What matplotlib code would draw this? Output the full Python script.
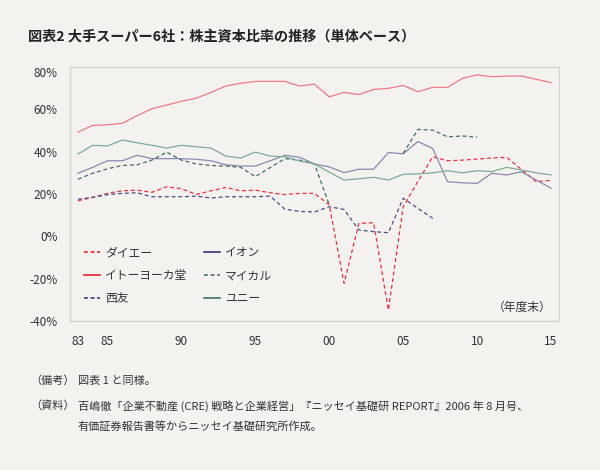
import numpy as np
import matplotlib
matplotlib.use("Agg")
import matplotlib.pyplot as plt
import matplotlib.transforms as mtrans
from matplotlib.lines import Line2D

plt.rcParams['font.family'] = ['Noto Sans CJK JP', 'DejaVu Sans']

nan = np.nan
years = list(range(1983, 2016))
xtick_years = [1983, 1985, 1990, 1995, 2000, 2005, 2010, 2015]
xtick_labels = ["83", "85", "90", "95", "00", "05", "10", "15"]
yticks = [-40, -20, 0, 20, 40, 60, 80]

daiei = [16.8, 18.4, 20.3, 21.5, 21.8, 20.8, 23.4, 22.5, 19.8, 21.5, 23.1, 21.5, 21.8,
         20.6, 19.7, 20.3, 20.3, 14.8, -22.2, 6.1, 6.4, -34.8, 14.0, 26.0, 37.6,
         35.7, 36.0, 36.5, 37.0, 37.3, 31.6, 25.8, 26.5]
ito = [49.3, 52.4, 52.7, 53.4, 57.0, 60.3, 62.0, 63.8, 65.3, 68.0, 71.0, 72.3, 73.2,
       73.2, 73.2, 71.0, 71.9, 65.9, 68.0, 67.0, 69.4, 69.9, 71.3, 68.3, 70.4,
       70.4, 74.6, 76.3, 75.4, 75.7, 75.7, 74.2, 72.6]
seiyu = [17.5, 18.4, 19.7, 20.3, 20.6, 18.7, 18.7, 18.7, 19.0, 18.1, 18.7, 18.7, 18.7,
         19.0, 12.8, 11.8, 11.5, 14.0, 12.7, 3.0, 2.2, 1.7, 18.0, 13.2, 8.5,
         nan, nan, nan, nan, nan, nan, nan, nan]
aeon = [29.8, 32.6, 35.7, 35.7, 38.3, 36.7, 36.7, 36.7, 36.4, 35.7, 33.8, 33.2, 33.2,
        35.7, 38.3, 37.3, 34.2, 32.8, 30.1, 31.7, 31.7, 39.6, 39.0, 44.8, 41.5,
        25.8, 25.3, 25.0, 29.8, 29.0, 30.5, 26.6, 22.7]
mycal = [27.0, 29.8, 31.9, 33.5, 33.8, 36.0, 39.8, 36.0, 34.2, 33.5, 33.2, 32.6, 28.2,
         32.5, 36.7, 36.0, 34.2, 14.8, nan, nan, nan, nan, 39.2, 50.5, 50.2,
         47.0, 47.4, 46.8, nan, nan, nan, nan, nan]
uny = [38.9, 43.0, 42.7, 45.5, 44.2, 43.0, 41.7, 43.0, 42.3, 41.7, 37.9, 37.0, 39.8,
       37.9, 37.6, 35.6, 34.2, 30.3, 26.6, 27.2, 27.9, 26.6, 29.3, 29.5, 30.0,
       31.0, 30.0, 31.0, 30.6, 32.6, 31.3, 30.0, 29.0]

labels = ["ダイエー", "イトーヨーカ堂", "西友", "イオン", "マイカル", "ユニー"]
series = [daiei, ito, seiyu, aeon, mycal, uny]
line_colors = ["#ef2f40", "#f07886", "#4d4d88", "#8a88b0", "#3f6f66", "#7eaa9c"]
legend_colors = ["#e60f1e", "#e60f1e", "#2a2a78", "#23236e", "#2f6a5e", "#2f6a5e"]
dashed = [True, False, True, False, True, False]

bg = "#f4f2ef"
fig = plt.figure(figsize=(6.0, 4.7), dpi=100, facecolor=bg)
ax = fig.add_axes([70/600, 1-321/470, 489/600, 254/470], facecolor=bg)

for vals, c, d in zip(series, line_colors, dashed):
    ax.plot(years, vals, color=c, lw=0.9,
            linestyle=(0, (3.2, 2.2)) if d else '-')

ax.set_xlim(1982.46, 2015.54)
ax.set_ylim(-40, 80)
ax.set_xticks(xtick_years)
ax.set_xticklabels(xtick_labels)
ax.set_yticks(yticks)
ax.set_yticklabels([f"{v}%" for v in yticks])
ax.tick_params(length=0, labelsize=8.5, labelcolor="#333333")
ax.tick_params(axis='y', pad=9)
ax.tick_params(axis='x', pad=10)
for s in ax.spines.values():
    s.set_color("#d6d4d1")
    s.set_linewidth(1.0)

# top y label sits slightly lower in the reference
top_lbl = ax.get_yticklabels()[-1]
top_lbl.set_transform(top_lbl.get_transform() +
                      mtrans.ScaledTranslation(0, -5/100, fig.dpi_scale_trans))

handles = [Line2D([0], [0], color=c, lw=1.1,
                  linestyle=(0, (2.5, 1.8)) if d else '-')
           for c, d in zip(legend_colors, dashed)]
leg = ax.legend(handles, labels, ncol=2, loc="upper left",
                bbox_to_anchor=(14/489, 1-(246-67)/254),
                frameon=False, fontsize=8.5, handlelength=1.35,
                handletextpad=0.45, columnspacing=1.4, labelspacing=0.85,
                borderaxespad=0, borderpad=0)
for t in leg.get_texts():
    t.set_color("#333333")

ax.text(0.985, 0.055, "（年度末）", transform=ax.transAxes, ha="right",
        va="center", fontsize=8.5, color="#333333")

fig.text(28/600, 1-37/470, "図表2 大手スーパー6社：株主資本比率の推移（単体ベース）",
         fontsize=10.2, fontweight="bold", color="#222222", va="center", ha="left")

fn = 8
fig.text(30/600, 1-381/470, "（備考）", fontsize=fn, color="#333333", va="center")
fig.text(78/600, 1-381/470, "図表 1 と同様。", fontsize=fn, color="#333333", va="center")
fig.text(30/600, 1-406/470, "（資料）", fontsize=fn, color="#333333", va="center")
fig.text(78/600, 1-406/470,
         "百嶋徹「企業不動産 (CRE) 戦略と企業経営」『ニッセイ基礎研 REPORT』2006 年 8 月号、",
         fontsize=fn, color="#333333", va="center")
fig.text(78/600, 1-426/470, "有価証券報告書等からニッセイ基礎研究所作成。",
         fontsize=fn, color="#333333", va="center")

fig.savefig("out.png", dpi=100, facecolor=bg)
